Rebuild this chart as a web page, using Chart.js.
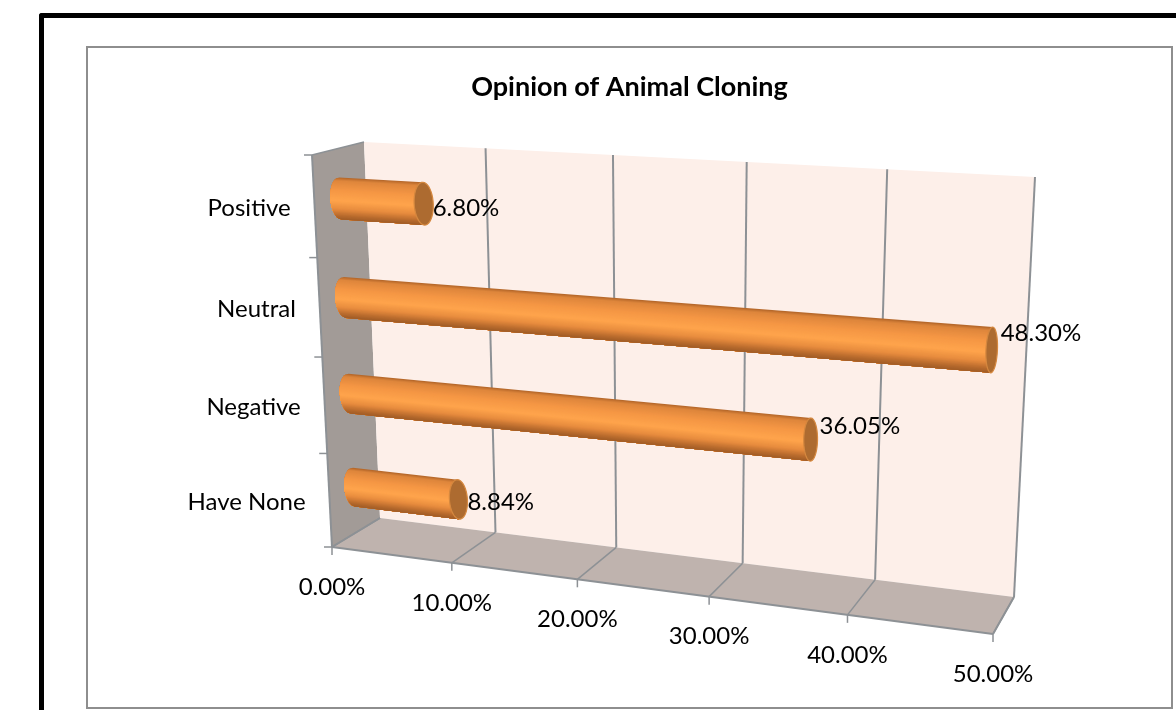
<!DOCTYPE html>
<html>
<head>
<meta charset="utf-8">
<script src="https://cdn.jsdelivr.net/npm/chart.js@4"></script>
<style>
    html, body { margin: 0; height: 100%; background: #fff; overflow: hidden; }
    #outer { position: absolute; left: 39px; top: 13px; width: 2000px; height: 2000px; border-left: 5px solid #000; border-top: 5px solid #000; border-top-left-radius: 3px; }
    #frame { position: absolute; left: 86px; top: 46px; width: 1087px; height: 663px; box-sizing: border-box; border: 2px solid #8e8e8e; background: #fff; }
    canvas { display: block; }
</style>
</head>
<body>
<div id="outer"></div>
<div id="frame"><canvas id="myChart" width="1083" height="659"></canvas></div>
<script>
const categories = ["Positive", "Neutral", "Negative", "Have None"]
const shareValues = [6.80, 48.30, 36.05, 8.84]
const valueTickLabels = ["0.00%", "10.00%", "20.00%", "30.00%", "40.00%", "50.00%"]
const valueLabels = ["6.80%", "48.30%", "36.05%", "8.84%"]
const chartTitle = "Opinion of Animal Cloning"

const FONT = "Lato, 'Open Sans', sans-serif"

// corners of the 3d box on the page: top left, top right, bottom right, bottom left
const frontQuad = [[312, 155], [1018, 194], [993, 634], [332, 547]]
const backQuad = [[364, 142], [1035, 177], [1014, 597], [380, 518]]
const barQuad = [[338, 148], [1026, 184], [1004, 615], [356, 533]]

// unit square -> quad (Heckbert)
function homography(q) {
    let [x0, y0] = q[0], [x1, y1] = q[1], [x2, y2] = q[2], [x3, y3] = q[3]
    let dx1 = x1 - x2, dx2 = x3 - x2, sx = x0 - x1 + x2 - x3
    let dy1 = y1 - y2, dy2 = y3 - y2, sy = y0 - y1 + y2 - y3
    let den = dx1 * dy2 - dx2 * dy1
    let g = (sx * dy2 - dx2 * sy) / den
    let h = (dx1 * sy - sx * dy1) / den
    let a = x1 - x0 + g * x1, b = x3 - x0 + h * x3
    let d = y1 - y0 + g * y1, e = y3 - y0 + h * y3
    return (u, v) => {
        let w = g * u + h * v + 1
        return [(a * u + b * v + x0) / w, (d * u + e * v + y0) / w]
    }
}

const front = homography(frontQuad)
const back = homography(backQuad)
const barPlane = homography(barQuad)

function poly(ctx, pts, fill, stroke, lw) {
    ctx.beginPath()
    pts.forEach((p, i) => i ? ctx.lineTo(p[0], p[1]) : ctx.moveTo(p[0], p[1]))
    ctx.closePath()
    if (fill) { ctx.fillStyle = fill; ctx.fill() }
    if (stroke) { ctx.strokeStyle = stroke; ctx.lineWidth = lw || 1; ctx.stroke() }
}

function line(ctx, a, b, color, lw) {
    ctx.beginPath()
    ctx.moveTo(a[0], a[1])
    ctx.lineTo(b[0], b[1])
    ctx.strokeStyle = color
    ctx.lineWidth = lw
    ctx.stroke()
}

// colour across the cylinder, t goes 0..1 from top to bottom
const shade = [
    [0, [176, 100, 40]], [0.08, [222, 134, 60]], [0.3, [244, 150, 68]],
    [0.55, [255, 164, 76]], [0.75, [232, 140, 62]], [0.9, [186, 108, 46]], [1, [160, 92, 38]]
]

function shadeAt(t) {
    for (let i = 1; i < shade.length; i++) {
        if (t <= shade[i][0]) {
            let k = (t - shade[i - 1][0]) / (shade[i][0] - shade[i - 1][0])
            let c = shade[i - 1][1].map((a, j) => Math.round(a + (shade[i][1][j] - a) * k))
            return "rgb(" + c.join(",") + ")"
        }
    }
    return "rgb(160,92,38)"
}

function capSize(u) {
    return (11 - 6.2 * u) / 660
}

function drawCylinder(ctx, u0, u1, vc, hv) {
    const N = 40
    let c0 = capSize(u0), c1 = capSize(u1)
    // each strip runs down to the bottom of the bar and the next one paints over it,
    // so the edges between strips dont show
    for (let i = 0; i < N; i++) {
        let pts = [barPlane(u1, vc + hv * (2 * i / N - 1)), barPlane(u1, vc + hv)]
        for (let j = N; j >= i; j--) {
            let s = 2 * j / N - 1
            pts.push(barPlane(u0 - c0 * Math.sqrt(Math.max(0, 1 - s * s)), vc + hv * s))
        }
        poly(ctx, pts, shadeAt((i + 0.5) / N))
    }
    let cap = []
    for (let i = 0; i < 40; i++) {
        let a = i / 40 * Math.PI * 2
        cap.push(barPlane(u1 + c1 * Math.cos(a), vc + hv * Math.sin(a)))
    }
    poly(ctx, cap, "#ad6b30", "#d5883f", 1.2)
}

const box3d = {
    id: "box3d",
    beforeDatasetsDraw(chart) {
        const ctx = chart.ctx
        const area = chart.chartArea
        const xs = chart.scales.x
        const ys = chart.scales.y
        const uOf = px => (px - area.left) / area.width
        const vOf = py => (py - area.top) / area.height
        const edge = "#8d9195"

        ctx.save()
        ctx.translate(-88, -48)

        // walls
        poly(ctx, [front(0, 0), back(0, 0), back(0, 1), front(0, 1)], "#a29b97")
        poly(ctx, backQuad, "#fdefe9")
        poly(ctx, [front(0, 1), back(0, 1), back(1, 1), front(1, 1)], "#bfb3ae")

        // grid and ticks along the value axis
        xs.ticks.forEach(t => {
            let u = uOf(xs.getPixelForValue(t.value))
            let f = front(u, 1)
            line(ctx, f, back(u, 1), edge, 1.5)
            if (t.value > 0) line(ctx, back(u, 1), back(u, 0), edge, 2)
            line(ctx, f, [f[0], f[1] + 8], edge, 1.5)
            ctx.fillStyle = "#000"
            ctx.font = "24px " + FONT
            ctx.textAlign = "center"
            ctx.textBaseline = "middle"
            ctx.fillText(t.label, f[0], f[1] + 40)
        })

        // box edges
        line(ctx, front(0, 0), back(0, 0), edge, 1.5)
        line(ctx, front(0, 0), front(0, 1), edge, 2)
        line(ctx, front(0, 1), back(0, 1), edge, 1.5)
        line(ctx, front(0, 1), front(1, 1), edge, 2)
        line(ctx, front(1, 1), back(1, 1), edge, 2)

        // ticks between categories on the left wall
        for (let i = 0; i <= categories.length; i++) {
            let p = front(0, i / categories.length)
            line(ctx, [p[0] - 8, p[1]], p, edge, 1.5)
        }
        ys.ticks.forEach((t, i) => {
            let p = front(0, vOf(ys.getPixelForTick(i)))
            ctx.fillStyle = "#000"
            ctx.font = "24px " + FONT
            ctx.textAlign = "right"
            ctx.textBaseline = "middle"
            ctx.fillText(t.label, p[0] - 24, p[1] + 2)
        })

        // bars, from the elements chart.js laid out
        let bars = chart.getDatasetMeta(0).data
        bars.forEach(el => {
            drawCylinder(ctx, uOf(el.base), uOf(el.x), vOf(el.y), el.height / 2 / area.height)
        })

        // value labels drift upwards towards the right of the chart
        bars.forEach((el, i) => {
            let u = uOf(el.x)
            let p = barPlane(u, vOf(el.y))
            ctx.fillStyle = "#000"
            ctx.font = "24px " + FONT
            ctx.textAlign = "left"
            ctx.textBaseline = "middle"
            ctx.fillText(valueLabels[i], p[0] + 9, p[1] + 11.5 - 52.3 * u + 23.8 * u * u)
        })

        ctx.restore()
        return false
    }
}

window.onload = () => {
    const ctx = document.getElementById("myChart")
    new Chart(ctx, {
        type: "bar",
        data: {
            labels: categories,
            datasets: [{
                label: "Opinion",
                data: shareValues,
                backgroundColor: "#f7983f",
                barPercentage: 0.42,
                categoryPercentage: 1
            }]
        },
        plugins: [box3d],
        options: {
            indexAxis: "y",
            responsive: false,
            animation: false,
            plugins: {
                legend: { display: false },
                tooltip: { enabled: false },
                title: {
                    display: true,
                    text: chartTitle,
                    color: "#000",
                    font: { family: FONT, size: 27, weight: "bold" },
                    padding: { top: 23, bottom: 10 }
                }
            },
            scales: {
                x: {
                    display: false,
                    min: 0,
                    max: 50,
                    ticks: { stepSize: 10, callback: (v, i) => valueTickLabels[i] }
                },
                y: { display: false }
            }
        }
    })
}
</script>
</body>
</html>
